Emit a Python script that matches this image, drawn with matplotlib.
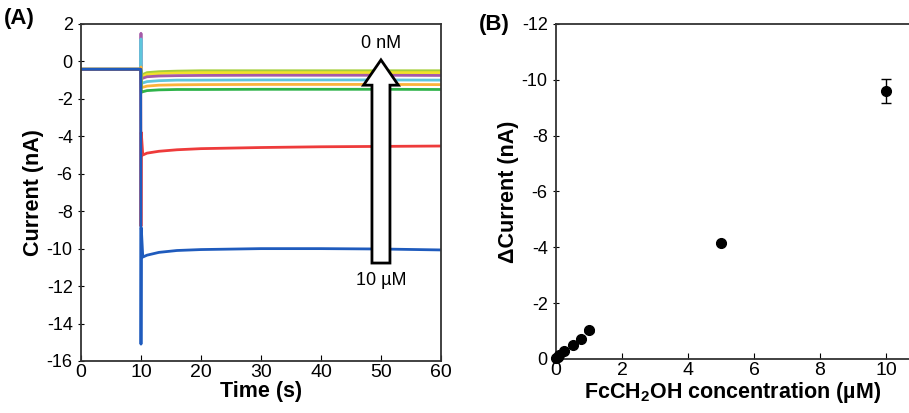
import numpy as np
import matplotlib
matplotlib.use("Agg")
import matplotlib.pyplot as plt

plt.rcParams["font.family"] = ["Liberation Sans", "DejaVu Sans"]
plt.rcParams["mathtext.fontset"] = "custom"
plt.rcParams["mathtext.bf"] = "Liberation Sans:bold"
plt.rcParams["mathtext.rm"] = "Liberation Sans"
plt.rcParams["axes.unicode_minus"] = False

# panel A: chronoamperometry traces
t = [0, 9.95, 10.0, 10.05, 10.3, 11, 13, 16, 20, 30, 40, 50, 60]
i_lime = [-0.42, -0.42, -0.3, -0.75, -0.7, -0.6, -0.55, -0.52, -0.5, -0.5, -0.5, -0.5, -0.5]
i_yellow = [-0.42, -0.42, -0.2, -0.85, -0.8, -0.7, -0.65, -0.62, -0.6, -0.6, -0.6, -0.6, -0.6]
i_purple = [-0.42, -0.42, 1.5, -0.95, -0.9, -0.82, -0.78, -0.76, -0.75, -0.74, -0.74, -0.74, -0.75]
i_cyan = [-0.42, -0.42, 1.2, -1.2, -1.15, -1.08, -1.03, -1.0, -1.0, -0.99, -0.99, -0.99, -1.0]
i_orange = [-0.42, -0.42, -0.3, -1.4, -1.38, -1.32, -1.27, -1.25, -1.24, -1.23, -1.23, -1.23, -1.24]
i_green = [-0.42, -0.42, -0.5, -1.65, -1.62, -1.56, -1.52, -1.5, -1.5, -1.49, -1.49, -1.49, -1.5]
i_red = [-0.42, -0.42, -8.8, -3.8, -5.0, -4.9, -4.8, -4.72, -4.66, -4.6, -4.56, -4.54, -4.52]
i_blue = [-0.42, -0.42, -15.1, -8.9, -10.45, -10.35, -10.2, -10.1, -10.05, -10.0, -10.0, -10.02, -10.07]

traces = [i_lime, i_yellow, i_purple, i_cyan, i_orange, i_green, i_red, i_blue]
colors = ["#a6ce39", "#f2e12a", "#a55aa8", "#5ec6dc", "#fbb33b", "#2eb34a", "#ee3b3b", "#1f5bbd"]

# panel B: calibration
conc = [0, 0.05, 0.1, 0.25, 0.5, 0.75, 1, 5, 10]
dcur = [-0.03, -0.08, -0.15, -0.28, -0.5, -0.73, -1.02, -4.15, -9.6]
dcur_err = [0.02, 0.02, 0.02, 0.03, 0.03, 0.03, 0.04, 0.05, 0.43]

fig = plt.figure(figsize=(9.09, 4.13), dpi=100)
yfs = 13
xfs = 14
lfs = 15.5

axA = fig.add_axes([0.0891, 0.126, 0.396, 0.816])
for y, c in zip(traces, colors):
    axA.plot(t, y, color=c, lw=2)
axA.set_xlim(0, 60)
axA.set_ylim(-16, 2)
axA.set_xticks(np.arange(0, 61, 10))
axA.set_yticks(np.arange(-16, 3, 2))
axA.tick_params(axis="x", direction="in", length=4, labelsize=xfs, pad=2)
axA.tick_params(axis="y", direction="inout", length=5, labelsize=yfs)
axA.set_xlabel("Time (s)", fontsize=lfs, fontweight="bold", labelpad=0)
axA.set_ylabel("Current (nA)", fontsize=lfs, fontweight="bold", labelpad=2)
# concentration arrow, 10 uM at the bottom up to 0 nM
axA.arrow(50, -10.77, 0, 10.85, width=3, head_width=5.8, head_length=1.35,
          length_includes_head=True, fc="white", ec="black", lw=2, zorder=5)
axA.text(50, 0.98, "0 nM", ha="center", va="center", fontsize=13)
axA.text(50, -11.7, "10 µM", ha="center", va="center", fontsize=13)
for s in axA.spines.values():
    s.set_color("#333333")
    s.set_linewidth(1.3)
fig.text(0.004, 0.955, "(A)", fontsize=16, fontweight="bold", va="center")

axB = fig.add_axes([0.6117, 0.131, 0.3883, 0.811])
axB.errorbar(conc, dcur, yerr=dcur_err, fmt="o", color="black", ms=7,
             capsize=3.5, elinewidth=1, capthick=1, clip_on=False, zorder=5)
axB.set_xlim(0, 10.7)
axB.set_ylim(0, -12)
axB.set_xticks(np.arange(0, 11, 2))
axB.set_yticks(np.arange(0, -13, -2))
axB.tick_params(axis="x", direction="in", length=4, labelsize=xfs, pad=2)
axB.tick_params(axis="y", direction="inout", length=5, labelsize=yfs)
axB.set_xlabel(r"FcCH$_\mathbf{2}$OH concentration (µM)", fontsize=lfs,
               fontweight="bold", labelpad=1)
axB.set_ylabel("ΔCurrent (nA)", fontsize=lfs, fontweight="bold", labelpad=2)
axB.spines["right"].set_visible(False)
for s in axB.spines.values():
    s.set_color("#333333")
    s.set_linewidth(1.3)
fig.text(0.527, 0.94, "(B)", fontsize=16, fontweight="bold", va="center")

fig.savefig("out.png", dpi=100)
